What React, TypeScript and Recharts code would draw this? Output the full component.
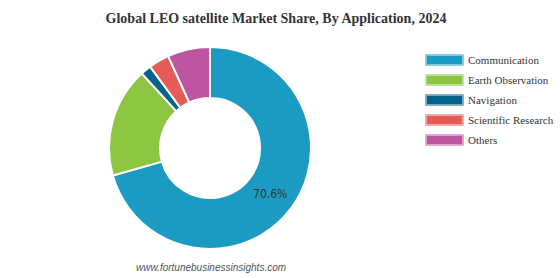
import React from 'react';
import { PieChart, Pie, Cell, Legend } from 'recharts';

const categories = ['Communication', 'Earth Observation', 'Navigation', 'Scientific Research', 'Others'];
const shares = [70.6, 17.6, 1.7, 3.3, 6.8];
const colors = ['#1c9bc2', '#8cc540', '#05628a', '#e65a57', '#bd55a0'];

const data = categories.map((name, i) => ({ name, value: shares[i] }));

const RADIAN = Math.PI / 180;

const renderLabel = (props: any) => {
  const { cx, cy, midAngle, innerRadius, outerRadius, index, value } = props;
  if (index !== 0) return null;
  const r = (innerRadius + outerRadius) / 2;
  const x = cx + r * Math.cos(-midAngle * RADIAN);
  const y = cy + r * Math.sin(-midAngle * RADIAN);
  return (
    <text x={x} y={y} textAnchor="middle" dominantBaseline="central" fill="#333" fontSize={12} fontFamily="'Liberation Sans Narrow', 'DejaVu Sans Condensed', 'Liberation Sans', sans-serif">
      {`${value.toFixed(1)}%`}
    </text>
  );
};

const LegendContent = () => (
  <div>
    {categories.map((c, i) => (
      <div key={c} style={{ display: 'flex', alignItems: 'center', height: 20 }}>
        <div style={{ flexShrink: 0, width: 35, height: 8, background: colors[i], border: '1px solid rgba(255,255,255,0.45)', boxShadow: `0 0 0 0.5px ${colors[i]}` }} />
        <span style={{ marginLeft: 5, fontFamily: "'Liberation Serif', serif", fontSize: 11, color: '#333', whiteSpace: 'nowrap' }}>{c}</span>
      </div>
    ))}
  </div>
);

export default function App() {
  return (
    <div style={{ position: 'absolute', left: 0, top: 0, width: 560, height: 278, background: '#fff' }}>
      <div style={{ position: 'absolute', left: 0, top: 11, width: 552, textAlign: 'center', fontFamily: "'Liberation Serif', serif", fontWeight: 'bold', fontSize: 14, color: '#333' }}>
        Global LEO satellite Market Share, By Application, 2024
      </div>
      <PieChart width={560} height={278} margin={{ top: 0, right: 0, bottom: 0, left: 0 }}>
        <Pie
          data={data}
          dataKey="value"
          nameKey="name"
          cx={210}
          cy={148}
          innerRadius={50}
          outerRadius={101}
          startAngle={90}
          endAngle={-270}
          stroke="#fff"
          strokeWidth={2}
          label={renderLabel}
          labelLine={false}
          isAnimationActive={false}
        >
          {data.map((d, i) => (
            <Cell key={d.name} fill={colors[i]} />
          ))}
        </Pie>
        <Legend content={<LegendContent />} wrapperStyle={{ position: 'absolute', left: 426, top: 50, width: 134 }} />
      </PieChart>
      <div style={{ position: 'absolute', left: 136, top: 262, fontFamily: "'Liberation Sans', Arial, sans-serif", fontStyle: 'italic', fontSize: 10, color: '#555' }}>
        www.fortunebusinessinsights.com
      </div>
    </div>
  );
}
